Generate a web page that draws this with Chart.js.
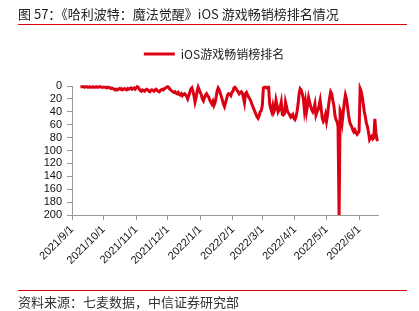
<!DOCTYPE html>
<html>
<head>
<meta charset="utf-8">
<script src="https://cdn.jsdelivr.net/npm/chart.js"></script>
<style>
  html, body { margin: 0; padding: 0; background: #fff; }
  #wrap { position: relative; width: 419px; height: 311px; overflow: hidden; }
  #chart { position: absolute; left: 0; top: 0; }
  .cap { position: absolute; left: 18px; font-family: "Noto Sans CJK SC", sans-serif; font-size: 13px; color: #222; white-space: nowrap; line-height: 1; }
  .rule { position: absolute; left: 18px; width: 389px; height: 1px; background: #d7000f; }
</style>
</head>
<body>
<div id="wrap">
  <canvas id="chart" width="419" height="311"></canvas>
  <div class="cap" style="top:7px">图 57：《哈利波特：魔法觉醒》iOS 游戏畅销榜排名情况</div>
  <div class="rule" style="top:24px"></div>
  <div class="rule" style="top:290px"></div>
  <div class="cap" style="top:295px;color:#333">资料来源：七麦数据，中信证券研究部</div>
</div>
<script>
// axis starts 2021/9/1, game ranking data starts 2021/9/9
const startDay = Date.UTC(2021, 8, 1);
const emptyDays = 8;

const sep = [1, 1, 1, 1, 2, 1, 1, 2, 2, 1, 2, 2, 1, 2, 2, 1, 2, 2, 1, 1, 2, 2];
const oct = [2, 2, 2, 3, 2, 2, 3, 4, 3, 4, 5, 6, 5, 6, 5, 4, 5, 4, 6, 5, 4, 5, 6, 4, 5, 4, 3, 5, 4, 3, 5];
const nov = [3, 1, 2, 5, 7, 8, 6, 7, 8, 6, 5, 6, 8, 9, 7, 6, 7, 8, 6, 5, 7, 8, 9, 7, 6, 5, 6, 4, 3, 2];
const dec = [1, 2, 5, 6, 8, 9, 10, 9, 11, 12, 10, 13, 14, 12, 15, 13, 12, 14, 16, 20, 15, 10, 5, 3, 8, 15, 25, 18, 8, 2, 6];
const jan = [10, 14, 20, 23, 18, 14, 12, 15, 17, 22, 25, 28, 24, 30, 26, 18, 8, 3, 6, 11, 16, 22, 28, 32, 26, 20, 14, 12, 13, 15, 10];
const feb = [8, 3, 2, 4, 7, 9, 12, 10, 9, 11, 18, 26, 12, 10, 14, 17, 20, 23, 28, 32, 36, 40, 44, 48, 50, 46, 40, 38];
const mar = [30, 3, 2, 2, 3, 2, 2, 28, 35, 40, 31, 40, 36, 22, 30, 40, 37, 33, 25, 44, 45, 43, 25, 32, 40, 42, 45, 48, 46, 44, 50];
const apr = [52, 48, 40, 28, 12, 4, 6, 12, 20, 37, 25, 40, 30, 18, 25, 32, 37, 40, 35, 28, 45, 40, 37, 30, 22, 35, 50, 55, 52, 45];
const may = [55, 45, 30, 18, 9, 12, 22, 30, 45, 52, 55, 63, 200, 38, 42, 55, 40, 25, 14, 20, 32, 45, 55, 60, 63, 68, 71, 68, 72, 75, 73];
const jun = [70, 4, 8, 17, 28, 40, 48, 58, 63, 72, 83, 80, 78, 82, 80, 51, 72, 83, 85];

const yTicks = [0, 20, 40, 60, 80, 100, 120, 140, 160, 180, 200];

const ranks = new Array(emptyDays).fill(null)
  .concat(sep, oct, nov, dec, jan, feb, mar, apr, may, jun);

const labels = ranks.map((_, i) => {
  const d = new Date(startDay + i * 86400000);
  return d.getUTCFullYear() + '/' + (d.getUTCMonth() + 1) + '/' + d.getUTCDate();
});

const red = '#dc0014';
const numFont = { family: 'Liberation Sans, Arial, sans-serif', size: 11 };

// move the legend: a bit right and up, away from the plot, like the original
const legendShift = {
  id: 'legendShift',
  afterLayout(chart) {
    const lg = chart.legend;
    lg.left += 4;
    lg.right += 4;
    lg.top -= 16;
    lg.bottom -= 16;
  }
};

new Chart(document.getElementById('chart'), {
  type: 'line',
  data: {
    labels: labels,
    datasets: [{
      label: 'iOS游戏畅销榜排名',
      data: ranks,
      borderColor: red,
      backgroundColor: red,
      borderWidth: 3,
      pointRadius: 0,
      tension: 0,
      clip: 4
    }]
  },
  options: {
    responsive: false,
    animation: false,
    layout: { padding: { left: 42, right: 41, top: 54, bottom: 41 } },
    plugins: {
      tooltip: { enabled: false },
      legend: {
        position: 'top',
        labels: {
          usePointStyle: true,
          pointStyle: 'line',
          pointStyleWidth: 31,
          padding: 10,
          color: '#222',
          font: { family: 'Noto Sans CJK SC, sans-serif', size: 12 }
        }
      }
    },
    scales: {
      x: {
        grid: { drawOnChartArea: false, drawTicks: true, tickLength: 5, color: '#999' },
        border: { color: '#999' },
        ticks: {
          autoSkip: false,
          maxRotation: 45,
          minRotation: 45,
          color: '#111',
          font: numFont,
          callback: function (value) {
            const lab = this.getLabelForValue(value);
            return lab.split('/')[2] === '1' ? lab : null;
          }
        }
      },
      y: {
        reverse: true,
        min: 0,
        max: 200,
        afterFit: (s) => { s.width = 30; },
        afterBuildTicks: (s) => { s.ticks = yTicks.map(v => ({ value: v })); },
        grid: { drawOnChartArea: false, drawTicks: true, tickLength: 5, color: '#999' },
        border: { color: '#999' },
        ticks: { autoSkip: false, color: '#111', font: numFont, padding: 5 }
      }
    }
  },
  plugins: [legendShift]
});
</script>
</body>
</html>
